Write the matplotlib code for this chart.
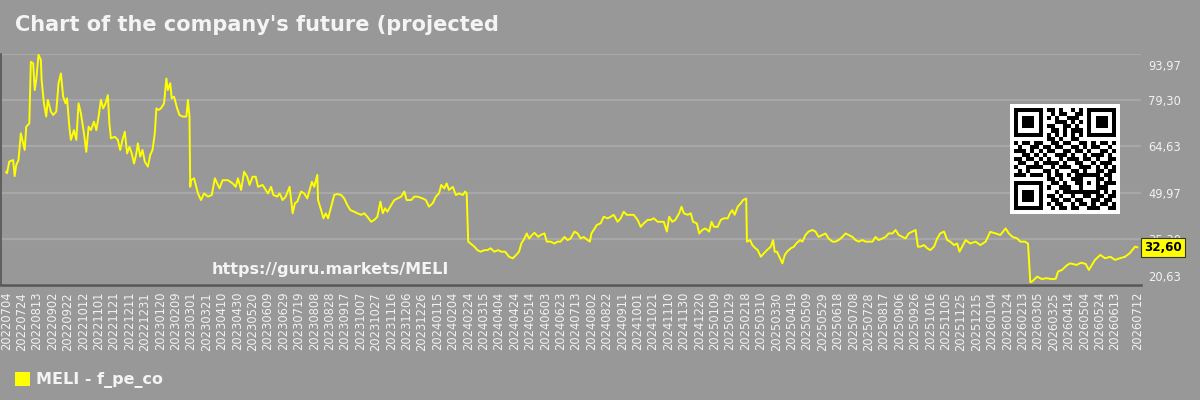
import numpy as np
import pandas as pd
import matplotlib
matplotlib.use("Agg")
import matplotlib.pyplot as plt
import matplotlib.transforms as mtrans
from matplotlib.patches import Patch
from matplotlib.ticker import FixedLocator, FuncFormatter

BG = "#989898"
GRID = "#a7a7a7"
LINE = "#ffff00"
TXT = "#f2f2f2"

start = pd.Timestamp("2022-07-04")
end = pd.Timestamp("2026-07-12")

# day offsets from start
days = [0, 1, 4, 9, 11, 13, 16, 19, 22, 24, 26, 30, 32, 35, 37, 39, 42, 45, 46, 49,
        52, 54, 58, 61, 65, 68, 71, 74, 77, 79, 82, 84, 88, 91, 94, 97, 101, 104, 107, 110,
        114, 117, 120, 123, 126, 129, 132, 134, 136, 141, 145, 148, 151, 154, 157, 160, 163, 166, 169, 171,
        174, 177, 180, 184, 187, 190, 193, 195, 198, 201, 205, 208, 210, 213, 215, 218, 222, 225, 229, 234,
        236, 238, 239, 240, 244, 249, 253, 257, 262, 267, 271, 277, 281, 288, 294, 298, 301, 305, 309, 313,
        316, 320, 324, 327, 333, 337, 340, 344, 347, 352, 355, 359, 363, 368, 370, 372, 375, 378, 383, 387,
        391, 394, 397, 400, 404, 405, 409, 412, 415, 418, 422, 426, 430, 435, 439, 443, 447, 452, 456, 461,
        465, 469, 474, 478, 482, 486, 489, 492, 495, 500, 504, 508, 513, 517, 520, 526, 530, 534, 541, 545,
        549, 554, 558, 562, 565, 569, 572, 575, 580, 584, 588, 593, 596, 598, 600, 603, 608, 612, 616, 621,
        625, 629, 634, 639, 643, 648, 653, 658, 662, 666, 669, 673, 676, 679, 683, 686, 691, 694, 699, 702,
        707, 712, 716, 720, 725, 729, 733, 738, 742, 746, 750, 755, 758, 760, 763, 767, 772, 776, 781, 785,
        789, 794, 798, 802, 806, 811, 815, 820, 824, 828, 833, 837, 841, 846, 850, 854, 858, 861, 865, 869,
        874, 877, 880, 885, 889, 892, 897, 900, 904, 908, 913, 916, 919, 924, 928, 932, 937, 940, 943, 946,
        950, 954, 957, 961, 962, 966, 969, 973, 976, 980, 984, 988, 993, 996, 998, 1001, 1005, 1008, 1011, 1014,
        1019, 1023, 1026, 1031, 1034, 1038, 1042, 1047, 1051, 1055, 1060, 1064, 1068, 1073, 1077, 1081, 1086, 1090, 1094, 1099,
        1103, 1107, 1112, 1116, 1120, 1125, 1129, 1133, 1138, 1142, 1146, 1151, 1155, 1159, 1164, 1168, 1172, 1177, 1181, 1184,
        1187, 1192, 1196, 1200, 1205, 1209, 1213, 1218, 1222, 1226, 1231, 1235, 1238, 1246, 1252, 1259, 1265, 1272, 1278, 1285,
        1291, 1298, 1302, 1307, 1313, 1317, 1323, 1327, 1330, 1332, 1339, 1345, 1351, 1358, 1363, 1366, 1371, 1378, 1382, 1390,
        1396, 1402, 1406, 1410, 1414, 1421, 1427, 1434, 1440, 1446, 1453, 1459, 1466, 1469]

values = [56.5, 56.1, 59.8, 60.3, 55.2, 58.7, 60.3, 68.8, 65.6, 63.5, 70.9, 71.9, 91.5, 91.0, 82.5, 85.7, 93.7, 92.1, 85.7, 78.3,
          74.1, 79.4, 75.7, 74.6, 75.7, 84.7, 87.8, 80.4, 78.3, 79.9, 70.9, 66.7, 69.8, 66.7, 78.3, 75.1, 68.8, 62.9, 70.9, 69.8,
          72.5, 69.8, 74.1, 79.4, 76.7, 78.3, 80.9, 71.9, 67.2, 67.7, 66.7, 63.5, 66.7, 69.3, 62.4, 64.5, 62.4, 59.2, 62.4, 65.6,
          61.4, 63.5, 59.8, 58.2, 61.9, 63.5, 68.8, 76.7, 76.2, 76.7, 78.3, 86.2, 82.5, 84.7, 79.9, 80.4, 76.7, 74.6, 74.1, 74.1,
          79.4, 74.1, 51.8, 53.9, 54.5, 49.7, 47.6, 49.7, 48.7, 49.2, 54.5, 51.3, 53.9, 53.9, 52.9, 51.8, 54.5, 50.8, 56.6, 55.0,
          52.4, 55.0, 55.0, 51.8, 52.4, 50.8, 49.7, 51.8, 49.2, 48.7, 49.7, 47.6, 48.7, 51.8, 47.6, 43.4, 46.6, 47.1, 50.3, 49.7,
          48.1, 50.8, 53.4, 51.8, 55.6, 47.6, 44.4, 41.8, 43.4, 41.8, 45.5, 49.2, 49.5, 49.2, 48.1, 46.0, 44.4, 43.9, 43.4, 42.9,
          43.4, 42.3, 40.7, 41.3, 42.3, 47.1, 43.4, 45.0, 43.9, 46.0, 47.6, 48.1, 48.7, 50.3, 47.6, 47.6, 48.7, 48.7, 48.1, 47.6,
          45.5, 46.6, 48.7, 49.7, 52.4, 51.3, 52.9, 50.8, 51.8, 49.2, 49.7, 49.2, 50.3, 49.7, 34.4, 33.8, 32.8, 31.7, 31.2, 31.7,
          31.7, 32.3, 31.2, 31.7, 31.2, 31.2, 29.6, 29.1, 30.1, 31.2, 33.8, 35.4, 37.0, 35.4, 36.5, 37.2, 35.9, 36.5, 37.0, 34.4,
          34.4, 33.8, 34.4, 34.4, 35.9, 34.9, 35.4, 37.6, 37.0, 35.4, 35.9, 34.9, 34.4, 37.0, 38.1, 39.7, 40.2, 42.3, 41.8, 42.3,
          42.9, 40.7, 41.8, 43.9, 42.9, 42.9, 42.9, 41.3, 39.1, 40.2, 41.3, 41.3, 41.8, 40.7, 40.7, 40.7, 37.6, 42.3, 40.7, 41.3,
          43.4, 45.5, 43.4, 42.9, 43.4, 40.7, 40.2, 37.0, 38.1, 38.6, 37.6, 40.7, 39.1, 39.1, 41.3, 41.8, 41.8, 43.4, 44.4, 42.9,
          45.5, 46.6, 47.6, 48.1, 34.4, 34.9, 33.3, 32.3, 31.7, 29.6, 30.7, 31.7, 32.8, 34.9, 31.2, 31.2, 29.1, 27.5, 30.1, 31.2,
          32.3, 32.8, 33.8, 34.9, 34.4, 36.5, 37.6, 38.1, 37.6, 35.9, 36.5, 37.0, 35.4, 34.4, 34.4, 34.9, 35.9, 37.0, 36.5, 35.9,
          34.9, 34.4, 34.9, 34.4, 34.4, 34.4, 35.9, 34.9, 35.4, 35.9, 37.0, 37.0, 38.1, 36.5, 35.9, 35.4, 37.0, 37.6, 38.1, 32.8,
          32.8, 33.3, 32.3, 31.7, 32.8, 35.4, 37.0, 37.6, 34.9, 34.4, 33.3, 33.8, 31.2, 34.9, 33.8, 34.4, 33.3, 34.4, 37.5, 37.0,
          36.5, 38.6, 37.0, 35.9, 35.4, 34.4, 34.4, 33.8, 21.5, 21.7, 23.3, 22.5, 22.8, 22.5, 22.6, 24.9, 25.4, 27.0, 27.5, 27.0,
          27.7, 27.3, 25.4, 27.0, 28.6, 30.2, 29.1, 29.6, 28.6, 29.1, 29.6, 30.7, 32.8, 32.6]

y_ticks = [20.63, 35.30, 49.97, 64.63, 79.30, 93.97]
last_value = 32.60
ticker_label = "MELI - f_pe_co"
title = "Chart of the company's future (projected"
watermark = "https://guru.markets/MELI"

# QR-like badge (modules, 1 = black)
qr_rows = [
    "1111111" + "0" + "110100101" + "0" + "1111111",
    "1000001" + "0" + "010110011" + "0" + "1000001",
    "1011101" + "0" + "101001110" + "0" + "1011101",
    "1011101" + "0" + "001110101" + "0" + "1011101",
    "1011101" + "0" + "110011010" + "0" + "1011101",
    "1000001" + "0" + "011010111" + "0" + "1000001",
    "1111111" + "0" + "101010101" + "0" + "1111111",
    "0000000" + "0" + "110100110" + "0" + "0000000",
    "101101" + "1" + "001101100110101101",
    "010011" + "0" + "110110011010110010",
    "111010" + "1" + "011001101101001101",
    "001101" + "0" + "100111010010111010",
    "110110" + "1" + "010010111011010011",
    "011001" + "0" + "111101001100101110",
    "100111" + "1" + "001011100111010101",
    "010100" + "0" + "110100011010011011",
    "111011" + "1" + "010110101111110110",
    "00000000" + "11010011" + "10001" + "1010",
    "1111111" + "0" + "01101001" + "10101" + "0111",
    "1000001" + "0" + "10011100" + "10001" + "1100",
    "1011101" + "0" + "00101111" + "11111" + "0101",
    "1011101" + "0" + "11010010" + "01101" + "1011",
    "1011101" + "0" + "01101101" + "10011" + "0110",
    "1000001" + "0" + "10110010" + "11010" + "1101",
    "1111111" + "0" + "01011011" + "00111" + "0011",
]

dates = start + pd.to_timedelta(days, unit="D")

fig = plt.figure(figsize=(12, 4), dpi=100, facecolor=BG)
ax = fig.add_axes([0.001, 115 / 400, 1140 / 1200, 231 / 400], facecolor=BG)

ax.plot(dates, values, color=LINE, lw=1.4, zorder=3)

ax.set_xlim(start - pd.Timedelta(days=6.5), start + pd.Timedelta(days=1474))
ax.set_ylim(y_ticks[0], y_ticks[-1])

ax.yaxis.set_major_locator(FixedLocator(y_ticks))
ax.yaxis.set_major_formatter(FuncFormatter(lambda v, p: f"{v:.2f}".replace(".", ",")))
ax.yaxis.tick_right()
ax.tick_params(axis="y", length=0, pad=5, labelsize=8.3, labelcolor=TXT)
ax.grid(axis="y", color=GRID, lw=1.6, zorder=1)
ax.set_axisbelow(True)

# every 20 days, then the last date
xt = list(pd.date_range(start, end - pd.Timedelta(days=20), freq="20D")) + [end]
ax.set_xticks(xt)
ax.set_xticklabels([d.strftime("%Y%m%d") for d in xt], rotation=90)
ax.tick_params(axis="x", length=0, pad=5, labelsize=8.3, labelcolor=TXT)

for s in ["top", "right"]:
    ax.spines[s].set_visible(False)
ax.spines["bottom"].set_color("#555555")
ax.spines["bottom"].set_linewidth(1.8)
ax.spines["left"].set_color("#555555")
ax.spines["left"].set_linewidth(1.2)

# keep the outer tick labels inside the plot band
ylabels = ax.yaxis.get_major_ticks()
ylabels[-1].label2.set_transform(ylabels[-1].label2.get_transform()
                                 + mtrans.ScaledTranslation(0, -0.11, fig.dpi_scale_trans))
ylabels[0].label2.set_transform(ylabels[0].label2.get_transform()
                                + mtrans.ScaledTranslation(0, 0.09, fig.dpi_scale_trans))

# last value badge
ax.text(1.0 + 3 / 1140, last_value, f"{last_value:.2f}".replace(".", ","),
        transform=ax.get_yaxis_transform(), ha="left", va="center",
        fontsize=8.6, fontweight="bold", color="black", zorder=10, clip_on=False,
        bbox=dict(boxstyle="square,pad=0.25", fc=LINE, ec="#333333", lw=0.8))

ax.text(0.289, 0.065, watermark, transform=ax.transAxes, ha="center", va="center",
        fontsize=11.5, fontweight="bold", color="#f4f4f4", zorder=4)

fig.text(15 / 1200, 1 - 25 / 400, title, ha="left", va="center",
         fontsize=15, fontweight="bold", color="#f4f4f4")

fig.legend(handles=[Patch(facecolor=LINE, edgecolor="none", label=ticker_label)],
           loc="center left", bbox_to_anchor=(15 / 1200, 1 - 380 / 400),
           frameon=False, borderpad=0, borderaxespad=0, handlelength=0.95, handleheight=0.95,
           handletextpad=0.35, prop={"weight": "bold", "size": 11.5}, labelcolor="#f4f4f4")

qr = np.array([[int(c) for c in r] for r in qr_rows])
qr = np.pad(qr, 1)
qax = fig.add_axes([1010 / 1200, (400 - 214) / 400, 110 / 1200, 110 / 400])
qax.imshow(1 - qr, cmap="gray", vmin=0, vmax=1, interpolation="nearest", aspect="auto")
qax.set_axis_off()

fig.savefig("out.png", dpi=100, facecolor=BG)
